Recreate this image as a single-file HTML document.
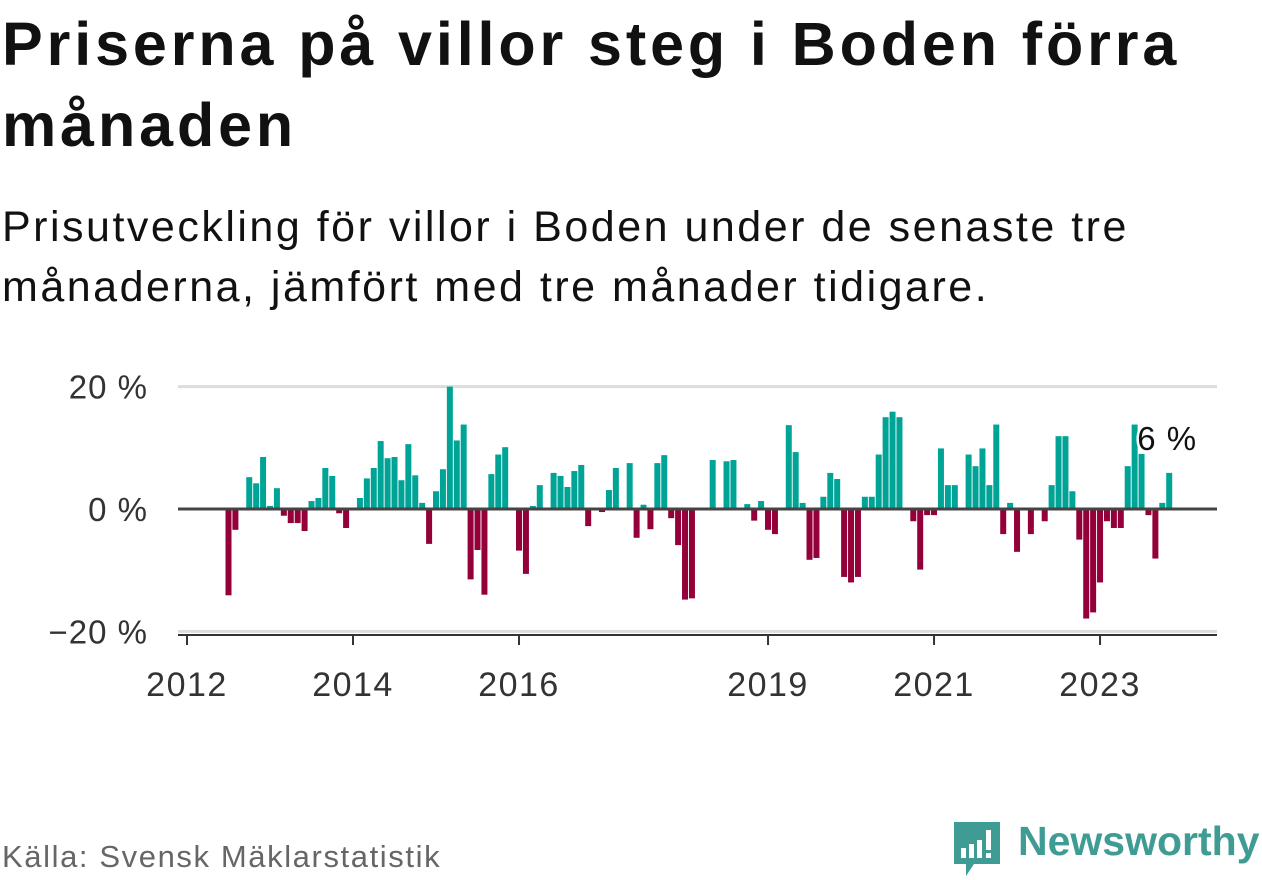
<!DOCTYPE html>
<html><head><meta charset="utf-8">
<style>
body{margin:0;width:1262px;height:879px;background:#fff;font-family:"Liberation Sans",sans-serif;overflow:hidden;position:relative;color:#111}
h1{position:absolute;left:2px;top:4px;margin:0;font-size:61px;line-height:81px;font-weight:bold;letter-spacing:3.9px}
.sub{position:absolute;left:2px;top:197px;margin:0;font-size:43px;line-height:60px;color:#111;letter-spacing:2.5px}
.src{position:absolute;left:2px;top:839px;font-size:31px;color:#666;letter-spacing:1.6px}
.logo{position:absolute;left:952px;top:820px}
.logotext{position:absolute;left:1018px;top:818px;font-size:41px;font-weight:bold;color:#3e9c94}
svg text{font-family:"Liberation Sans",sans-serif}
</style></head><body>
<h1>Priserna på villor steg i Boden förra<br>månaden</h1>
<p class="sub">Prisutveckling för villor i Boden under de senaste tre<br>månaderna, jämfört med tre månader tidigare.</p>
<svg id="chart" width="1262" height="879" style="position:absolute;left:0;top:0"></svg>
<div class="src">Källa: Svensk Mäklarstatistik</div>
<svg class="logo" width="50" height="60" viewBox="0 0 50 60">
<path d="M2 2h46v42H22l-8 12v-12H2z" fill="#3e9c94"/>
<rect x="9" y="28" width="5" height="10" fill="#fff"/><rect x="17" y="24" width="5" height="14" fill="#fff"/><rect x="25" y="20" width="5" height="18" fill="#fff"/><rect x="34" y="10" width="5" height="20" fill="#fff"/><rect x="34" y="33" width="5" height="5" fill="#fff"/>
</svg>
<div class="logotext">Newsworthy</div>
<script>
const startIndex = 6; // first month index (July 2012)
const values = [-14.1,-3.4,0,5.2,4.2,8.5,0.5,3.4,-1.1,-2.3,-2.3,-3.6,1.3,1.8,6.7,5.4,-0.7,-3.1,0,1.8,5.0,6.7,11.1,8.3,8.5,4.7,10.6,5.5,1.0,-5.7,2.9,6.5,20.0,11.2,13.8,-11.5,-6.7,-14.0,5.7,8.9,10.1,0,-6.8,-10.6,0.5,3.9,0,5.9,5.4,3.6,6.2,7.2,-2.8,0,-0.5,3.1,6.7,0,7.5,-4.7,0.7,-3.3,7.5,8.8,-1.5,-5.9,-14.8,-14.6,0,0,8.0,0,7.8,8.0,0,0.8,-1.9,1.3,-3.4,-4.1,0,13.7,9.3,1.0,-8.3,-8.0,2.0,5.9,4.9,-11.1,-12.0,-11.1,2.0,2.0,8.9,15.0,15.9,15.0,0,-2.0,-9.9,-1.0,-1.0,9.9,3.9,3.9,0,8.9,7.0,9.9,3.9,13.8,-4.1,1.0,-7.0,0,-4.1,0,-2.0,3.9,11.9,11.9,2.9,-5.0,-17.9,-16.9,-12.0,-2.0,-3.1,-3.1,7.0,13.8,9.0,-1.0,-8.1,1.0,5.9];
const yTicks = [20,0,-20];
const yTickLabels = ["20 %","0 %","−20 %"];
const xTickYears = [2012,2014,2016,2019,2021,2023];
const lastLabel = "6 %";

const svg = document.getElementById('chart');
const NS = 'http://www.w3.org/2000/svg';
const x0 = 187, pxPerMonth = 6.917;
const y0 = 509, pxPerPct = 6.12;
const xScale = m => x0 + m * pxPerMonth;
const yScale = v => y0 - v * pxPerPct;
function mk(tag, attrs){const e=document.createElementNS(NS,tag);for(const k in attrs)e.setAttribute(k,attrs[k]);svg.appendChild(e);return e;}

yTicks.forEach((t,i)=>{
  const g = mk('line',{x1:178,x2:1217,y1:yScale(t),y2:yScale(t),stroke:'#ddd','stroke-width':3});
  
  
  const tx = mk('text',{x:148,y:yScale(t)+12,'text-anchor':'end','font-size':33,fill:'#333','letter-spacing':1});
  tx.textContent = yTickLabels[i];
  
  
});
values.forEach((v,i)=>{
  if(v===0) return;
  const m = startIndex + i;
  const cx = xScale(m);
  const r = mk('rect',{x:cx-3,y:Math.min(yScale(v),y0),width:6,height:Math.abs(yScale(v)-y0),fill:v>0?'#00a497':'#940039'});
  
  
});
const zl = mk('line',{x1:178,x2:1217,y1:y0,y2:y0,stroke:'#444','stroke-width':3});


const ax = mk('line',{x1:178,x2:1217,y1:635,y2:635,stroke:'#333','stroke-width':2});


xTickYears.forEach(yr=>{
  const x = xScale((yr-2012)*12);
  const tk = mk('line',{x1:x,x2:x,y1:635,y2:645,stroke:'#333','stroke-width':2});
  
  
  const tx = mk('text',{x:x,y:696,'text-anchor':'middle','font-size':34,fill:'#333','letter-spacing':1.5});
  tx.textContent = yr;
  
  
});
const lastM = startIndex + values.length - 1;
const lbl = mk('text',{x:xScale(lastM)-32,y:450,'font-size':33,fill:'#111',stroke:'#fff','stroke-width':5,'paint-order':'stroke','letter-spacing':1});
lbl.textContent = lastLabel;


</script>
</body></html>
